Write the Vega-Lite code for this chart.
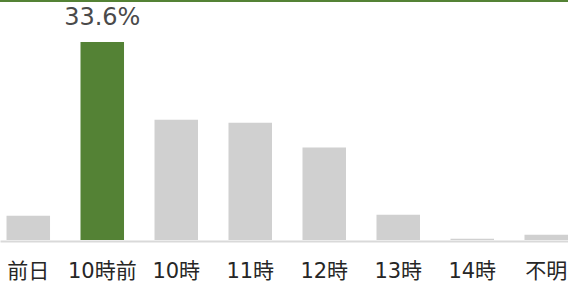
{
  "$schema": "https://vega.github.io/schema/vega-lite/v6.json",
  "autosize": "none",
  "padding": {"top": 1, "left": 0, "right": 0, "bottom": 43},
  "width": 568,
  "height": 239,
  "background": "white",
  "config": {"view": {"stroke": null}, "font": "DejaVu Sans, Noto Sans CJK JP"},
  "data": {
    "values": [
      {"cat": "前日", "value": 0.041},
      {"cat": "10時前", "value": 0.336},
      {"cat": "10時", "value": 0.204},
      {"cat": "11時", "value": 0.199},
      {"cat": "12時", "value": 0.157},
      {"cat": "13時", "value": 0.043},
      {"cat": "14時", "value": 0.002},
      {"cat": "不明", "value": 0.009}
    ]
  },
  "layer": [
    {
      "mark": {"type": "bar"},
      "encoding": {
        "x": {
          "field": "cat",
          "type": "nominal",
          "sort": null,
          "scale": {"paddingInner": 0.412, "paddingOuter": 0.044, "align": 1},
          "axis": {
            "title": null,
            "labelAngle": 0,
            "ticks": false,
            "domainColor": "#d9d9d9",
            "domainWidth": 2,
            "offset": 1,
            "labelPadding": 19,
            "labelFontSize": 21,
            "labelColor": "#262626",
            "labelFont": "DejaVu Sans, Noto Sans CJK JP"
          }
        },
        "y": {
          "field": "value",
          "type": "quantitative",
          "scale": {"domain": [0, 0.4056], "nice": false},
          "axis": null
        },
        "color": {
          "condition": {"test": "datum.cat === '10時前'", "value": "#548235"},
          "value": "#d0d0d0"
        }
      }
    },
    {
      "transform": [{"filter": "datum.cat === '10時前'"}],
      "mark": {"type": "text", "baseline": "alphabetic", "dy": -17, "fontSize": 24, "color": "#4a4a4a", "font": "DejaVu Sans, Noto Sans CJK JP"},
      "encoding": {
        "x": {"field": "cat", "type": "nominal", "sort": null},
        "y": {"field": "value", "type": "quantitative"},
        "text": {"field": "value", "type": "quantitative", "format": ".1%"}
      }
    },
    {
      "mark": {"type": "rule", "color": "#548235", "strokeWidth": 2},
      "encoding": {
        "y": {"datum": 0.4056, "type": "quantitative"}
      }
    }
  ]
}
